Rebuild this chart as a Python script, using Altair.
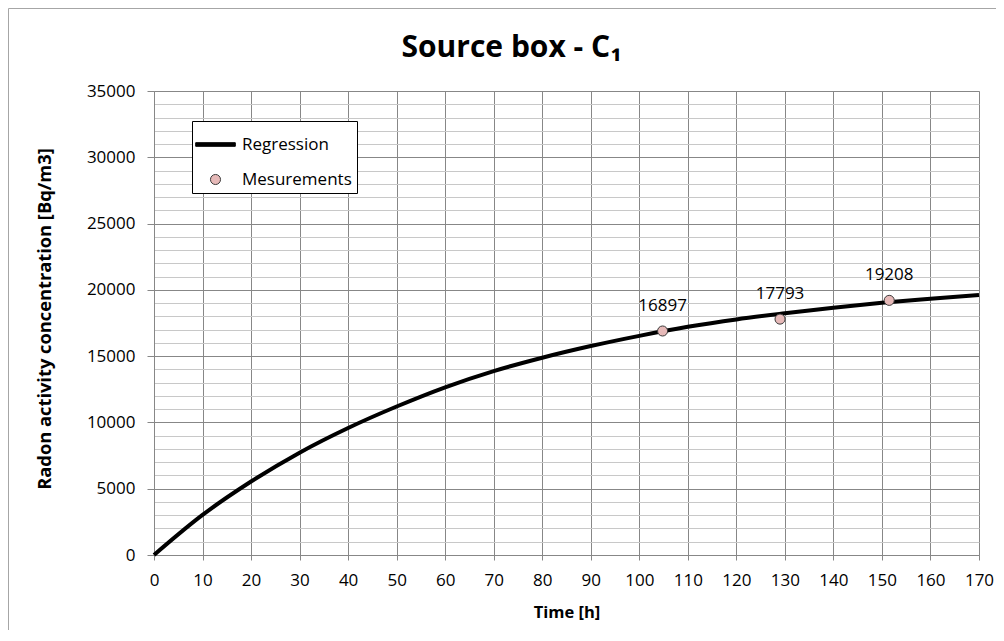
import altair as alt
import pandas as pd

# ---- data ----
time_h = [0, 10, 20, 30, 40, 50, 60, 70, 80, 90, 100, 110, 120, 130, 140, 150, 160, 170]
regression = [0, 3020, 5540, 7720, 9580, 11200, 12650, 13870, 14880, 15760,
              16530, 17210, 17770, 18230, 18650, 19020, 19330, 19620]
meas_time = [104.8, 129.0, 151.5]
meas_value = [16897, 17793, 19208]
series_names = ["Regression", "Mesurements"]
x_ticks = list(range(0, 171, 10))
y_ticks = list(range(0, 35001, 1000))

FONT = "Open Sans"
GRID_MAJOR = "#878787"
GRID_MINOR = "#c8c8c8"
PINK = "#e6b9b8"
OUTLINE = "#3b3b3b"

# legend / marker symbols (unit square [-1, 1], scaled by the symbol size)
LINE_SYMBOL = "M-1.1,-0.1L1.1,-0.1L1.1,0.1L-1.1,0.1Z"
DOT_SYMBOL = "M-0.28,0A0.28,0.28,0,1,0,0.28,0A0.28,0.28,0,1,0,-0.28,0Z"
SYMBOL_SIZE = 1296

reg_df = pd.DataFrame({"t": time_h, "v": regression})
meas_df = pd.DataFrame({"t": meas_time, "v": meas_value, "series": series_names[1],
                        "label": [str(v) for v in meas_value]})

xscale = alt.Scale(domain=[0, 170], nice=False, zero=False)
yscale = alt.Scale(domain=[0, 35000], nice=False)

is_major = "datum.value % 5000 === 0"

xaxis = alt.Axis(values=x_ticks, tickCount=50, title="Time [h]", titleFont=FONT, titleFontSize=16.5,
                 titleFontWeight="bold", titleColor="black", titleY=57, titleBaseline="middle",
                 labelFont=FONT, labelFontSize=17, labelColor="black", labelPadding=12,
                 tickSize=5, tickColor=GRID_MAJOR, domainColor=GRID_MAJOR,
                 gridColor=GRID_MAJOR, grid=True, labelFlush=False, labelOverlap=False,
                 format="d")

yaxis = alt.Axis(values=y_ticks, tickCount=100, title="Radon activity concentration [Bq/m3]",
                 titleFont=FONT, titleFontSize=18.3, titleFontWeight="bold", titleColor="black",
                 titleX=-109, titleY=227.5, titleBaseline="middle", titleAlign="center",
                 labelFont=FONT, labelFontSize=17, labelColor="black", labelPadding=12,
                 labelExpr=f"{is_major} ? datum.label : ''", format="d",
                 tickSize=7, domainColor=GRID_MAJOR, grid=True, labelOverlap=False,
                 gridColor={"condition": {"test": is_major, "value": GRID_MAJOR}, "value": GRID_MINOR},
                 tickColor={"condition": {"test": is_major, "value": GRID_MAJOR}, "value": "transparent"})


def make_legend():
    return alt.Legend(title=None, orient="none", legendX=38, legendY=30, fillColor="white",
                      strokeColor="#000000", padding=5, rowPadding=8, labelOffset=8,
                      symbolSize=SYMBOL_SIZE, symbolStrokeColor=OUTLINE, symbolStrokeWidth=1,
                      symbolOpacity=1, labelFont=FONT, labelFontSize=17, labelColor="black")


border = alt.Chart(pd.DataFrame({"a": [0]})).mark_rect(
    fill="transparent", stroke="#a6a6a6", strokeWidth=1
).encode(x=alt.value(-145.5), x2=alt.value(2000), y=alt.value(-82.5), y2=alt.value(2000))

line = alt.Chart(reg_df).mark_line(strokeWidth=4, interpolate="monotone", color="black").encode(
    x=alt.X("t:Q", scale=xscale, axis=xaxis),
    y=alt.Y("v:Q", scale=yscale, axis=yaxis),
)

pts = alt.Chart(meas_df).mark_point(filled=True, size=SYMBOL_SIZE, strokeWidth=1, opacity=1).encode(
    x=alt.X("t:Q", scale=xscale),
    y=alt.Y("v:Q", scale=yscale),
    fill=alt.Fill("series:N", scale=alt.Scale(domain=series_names, range=["#000000", PINK]),
                  legend=make_legend()),
    stroke=alt.Stroke("series:N", scale=alt.Scale(domain=series_names, range=["#000000", OUTLINE]),
                      legend=make_legend()),
    shape=alt.Shape("series:N", scale=alt.Scale(domain=series_names, range=[LINE_SYMBOL, DOT_SYMBOL]),
                    legend=make_legend()),
)

labels = alt.Chart(meas_df).mark_text(dy=-25, font=FONT, fontSize=17, color="black").encode(
    x=alt.X("t:Q", scale=xscale),
    y=alt.Y("v:Q", scale=yscale),
    text="label:N",
)

chart = alt.layer(border, line, pts, labels).properties(
    width=825, height=464,
    padding={"left": 146, "top": 83, "right": 17, "bottom": 75},
    autosize=alt.AutoSizeParams(type="none"),
    title=alt.TitleParams(text="Source box - C\u2081", font=FONT, fontSize=30, fontWeight="bold",
                          color="black", anchor="middle", frame="group", dx=-55,
                          baseline="alphabetic", offset=-79),
).configure_view(stroke=GRID_MAJOR).configure(background="white")

chart.save("out.html", embed_options={"renderer": "svg", "actions": False})
